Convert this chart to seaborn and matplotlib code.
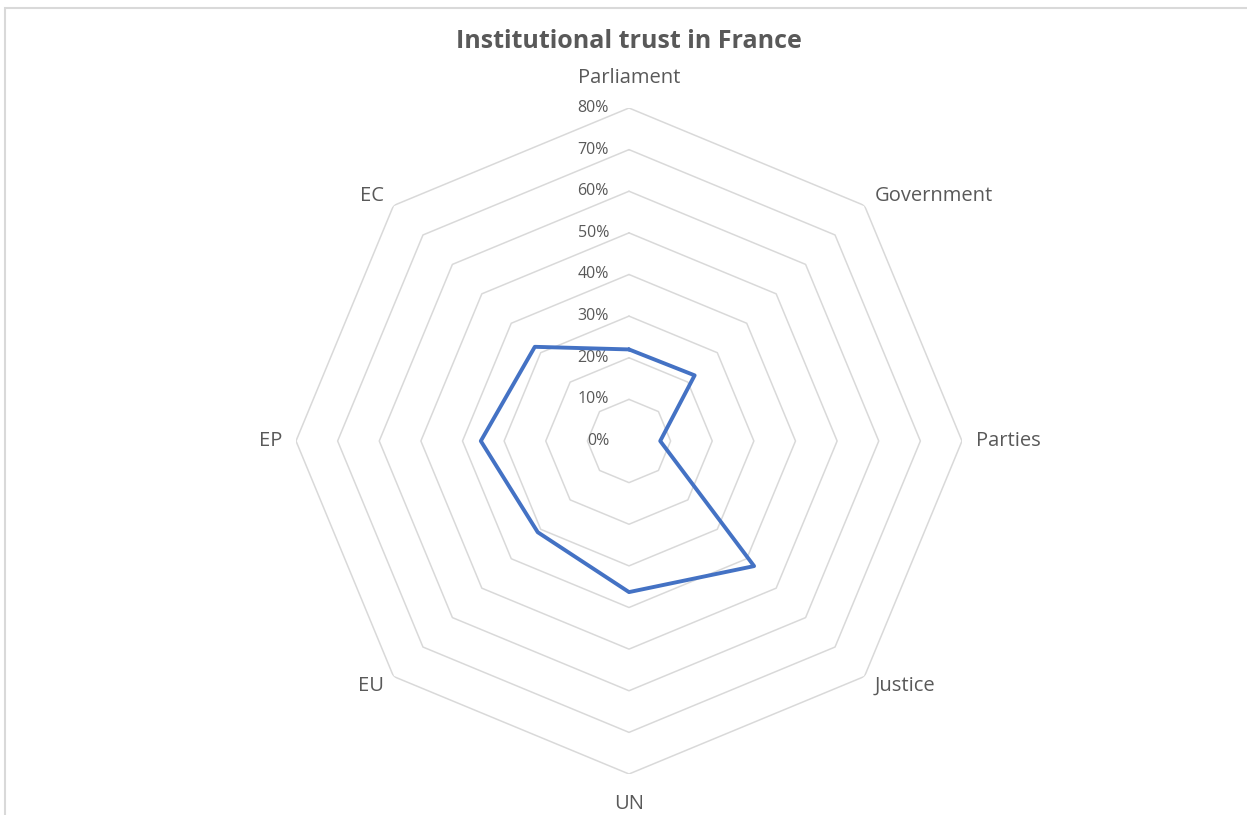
import numpy as np
import pandas as pd
import matplotlib.pyplot as plt
import seaborn as sns
from matplotlib.patches import Rectangle

# data
categories = ["Parliament", "Government", "Parties", "Justice", "UN", "EU", "EP", "EC"]
trust = [0.22, 0.223, 0.075, 0.425, 0.363, 0.31, 0.356, 0.32]
levels = [0.0, 0.1, 0.2, 0.3, 0.4, 0.5, 0.6, 0.7, 0.8]
level_labels = ["0%", "10%", "20%", "30%", "40%", "50%", "60%", "70%", "80%"]

sns.set_style("white")
plt.rcParams['font.family'] = ['Open Sans', 'DejaVu Sans']
gray = "#595959"

df = pd.DataFrame({"cat": categories, "trust": trust})
n = len(categories)
df["theta"] = np.arange(n) * 2 * np.pi / n
# close the loop (last point at 2*pi so seaborn does not merge it with theta=0)
closed = pd.concat([df, df.iloc[:1]], ignore_index=True)
closed.loc[n, "theta"] = 2 * np.pi

fig = plt.figure(figsize=(12.47, 8.15), dpi=100)
fig.patches.append(Rectangle((5 / 1247, -0.1), 1.2, (815 - 8) / 815 + 0.1,
                             transform=fig.transFigure, fill=False,
                             edgecolor="#d9d9d9", linewidth=1.5))

ax = fig.add_axes([(629 - 333) / 1247, (815 - 441 - 333) / 815, 666 / 1247, 666 / 815],
                  projection="polar")
ax.set_theta_zero_location("N")
ax.set_theta_direction(-1)
ax.grid(False)
ax.spines["polar"].set_visible(False)
ax.patch.set_alpha(0)

# octagon grid
for lv in levels[1:]:
    ax.plot(closed["theta"], [lv] * len(closed), color="#d9d9d9", linewidth=1.1, zorder=1)

# tick labels
for lv, lab in zip(levels, level_labels):
    ax.annotate(lab, (0, lv), xytext=(-20, 0), textcoords="offset pixels",
                ha="right", va="center", fontsize=11.5, color=gray)

# category labels
for th, cat in zip(df["theta"], df["cat"]):
    s, c = np.sin(th), np.cos(th)
    ha = "center" if abs(s) < 0.01 else ("left" if s > 0 else "right")
    dy = c * (30 if abs(c) > 0.99 else 13)
    ax.annotate(cat, (th, 0.8), xytext=(14 * s, dy), textcoords="offset pixels",
                ha=ha, va="center", fontsize=14.5, color=gray)

sns.lineplot(x=closed["theta"], y=closed["trust"], sort=False, ax=ax,
             color="#4472c4", linewidth=2.8, zorder=3)
ax.set_xlabel("")
ax.set_ylabel("")
ax.set_xticks([])
ax.set_yticks([])
ax.set_ylim(0, 0.8)

fig.text(629 / 1247, 1 - 41 / 815, "Institutional trust in France", ha="center", va="center",
         fontsize=18, fontweight="bold", color=gray)

fig.savefig("out.png", dpi=100)
